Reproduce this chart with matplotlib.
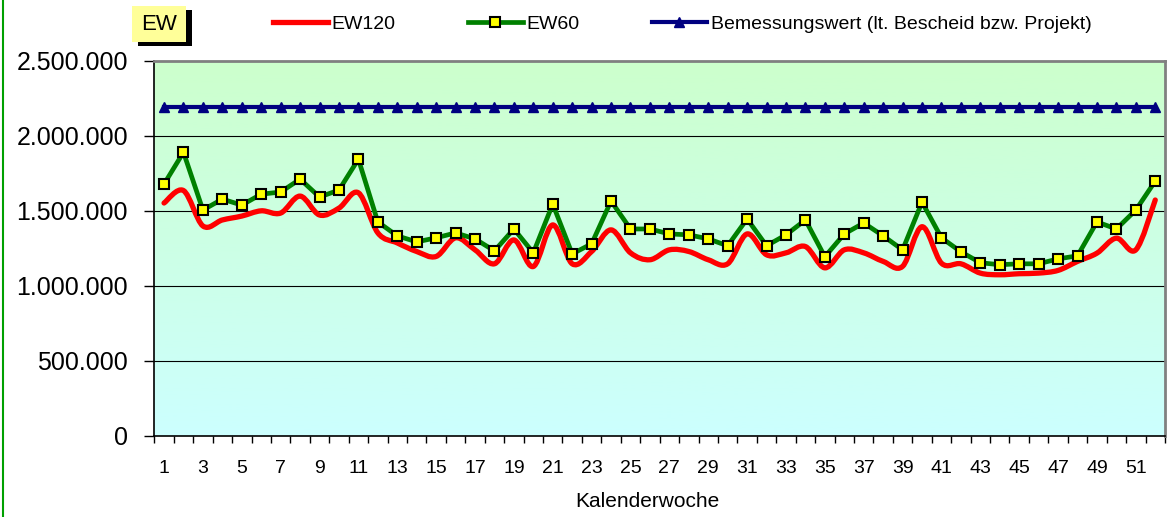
import matplotlib.pyplot as plt
import numpy as np
from matplotlib.path import Path
from matplotlib.patches import PathPatch, Rectangle
from matplotlib.lines import Line2D
from matplotlib.ticker import FuncFormatter

plt.rcParams['font.family'] = ['Liberation Sans', 'DejaVu Sans']

weeks = list(range(1, 53))
ew120 = [1552, 1635, 1399, 1439, 1465, 1500, 1485, 1598, 1472, 1518,
         1620, 1353, 1286, 1229, 1196, 1320, 1240, 1147, 1306, 1129,
         1406, 1147, 1229, 1373, 1220, 1174, 1240, 1229, 1174, 1147,
         1346, 1207, 1220, 1262, 1120, 1240, 1220, 1163, 1130, 1394,
         1151, 1147, 1085, 1074, 1081, 1085, 1103, 1163, 1218, 1318,
         1240, 1572]
ew60 = [1678, 1890, 1505, 1578, 1538, 1611, 1625, 1711, 1592, 1638,
        1844, 1426, 1333, 1293, 1320, 1353, 1313, 1233, 1379, 1220,
        1545, 1213, 1280, 1565, 1379, 1379, 1346, 1340, 1313, 1267,
        1446, 1267, 1340, 1439, 1194, 1346, 1419, 1333, 1240, 1558,
        1320, 1227, 1154, 1141, 1147, 1147, 1180, 1200, 1426, 1379,
        1505, 1698]
bemessung = [2190] * 52

ew120 = [v * 1000 for v in ew120]
ew60 = [v * 1000 for v in ew60]
bemessung = [v * 1000 for v in bemessung]


def smooth_path(xs, ys):
    # Bezier-Kurve wie Excel "geglaettete Linie"
    pts = list(zip(xs, ys))
    verts = [pts[0]]
    codes = [Path.MOVETO]
    n = len(pts)
    for i in range(n - 1):
        p0 = pts[max(i - 1, 0)]
        p1 = pts[i]
        p2 = pts[i + 1]
        p3 = pts[min(i + 2, n - 1)]
        c1 = (p1[0] + (p2[0] - p0[0]) / 6, p1[1] + (p2[1] - p0[1]) / 6)
        c2 = (p2[0] - (p3[0] - p1[0]) / 6, p2[1] - (p3[1] - p1[1]) / 6)
        verts += [c1, c2, p2]
        codes += [Path.CURVE4] * 3
    return Path(verts, codes)


fig = plt.figure(figsize=(11.7, 5.17), dpi=100)
ax = fig.add_axes([0.1319, 0.1567, 0.9957 - 0.1319, 0.8826 - 0.1567])

# Hintergrund-Verlauf
grad = np.linspace(0, 1, 256).reshape(-1, 1)
top = np.array([0xCC, 0xFF, 0xCC]) / 255
bot = np.array([0xCC, 0xFF, 0xFF]) / 255
img = top * (1 - grad[:, :, None]) + bot * grad[:, :, None]
ax.imshow(img, extent=[0.5, 52.5, 0, 2500000], aspect='auto', zorder=0)

for yv in [500000, 1000000, 1500000, 2000000]:
    ax.axhline(yv, color='black', lw=0.8, zorder=1)

ax.plot(weeks, bemessung, color='#000080', lw=3, marker='^', ms=7,
        zorder=3)
ax.add_patch(PathPatch(smooth_path(weeks, ew120), fill=False,
                       edgecolor='#FF0000', lw=3.8, capstyle='round',
                       joinstyle='round', zorder=4))
ax.plot(weeks, ew60, color='#008000', lw=3.4, marker='s', ms=7.3,
        mfc='#FFFF00', mec='black', mew=1.5, zorder=5)

ax.set_xlim(0.5, 52.5)
ax.set_ylim(0, 2500000)
ax.set_yticks([0, 500000, 1000000, 1500000, 2000000, 2500000])
ax.yaxis.set_major_formatter(FuncFormatter(
    lambda v, p: f"{int(v):,}".replace(',', '.')))
ax.tick_params(axis='y', labelsize=18, length=7, width=1, pad=12)

ax.set_xticks(weeks[::2])
ax.set_xticks([w + 0.5 for w in range(0, 53)], minor=True)
ax.tick_params(axis='x', which='major', length=0, labelsize=14, pad=17)
ax.tick_params(axis='x', which='minor', length=5, width=1)
ax.set_xlabel('Kalenderwoche', fontsize=15)
ax.xaxis.set_label_coords((647 - 154) / 1011, -0.148)

ax.spines['top'].set_color('#808080')
ax.spines['right'].set_color('#808080')
ax.spines['top'].set_linewidth(2)
ax.spines['right'].set_linewidth(2)
ax.spines['left'].set_linewidth(1.2)
ax.spines['bottom'].set_linewidth(1.2)

handles = [
    Line2D([], [], color='#FF0000', lw=3.8),
    Line2D([], [], color='#008000', lw=3.4, marker='s', ms=7.3,
           mfc='#FFFF00', mec='black', mew=1.5),
    Line2D([], [], color='#000080', lw=3, marker='^', ms=7),
]
labels = ['EW120', 'EW60', 'Bemessungswert (lt. Bescheid bzw. Projekt)']
fig.legend(handles, labels, loc='center', bbox_to_anchor=(0.583, 0.953),
           ncol=3, frameon=False, fontsize=14, handlelength=2.83,
           handletextpad=0.2, columnspacing=3.7)

# EW-Kasten mit Schatten
fig.patches.append(Rectangle((138 / 1170, 1 - 46 / 517), 54 / 1170, 36 / 517,
                             transform=fig.transFigure, facecolor='black',
                             edgecolor='none'))
fig.patches.append(Rectangle((132 / 1170, 1 - 42 / 517), 54 / 1170, 36 / 517,
                             transform=fig.transFigure, facecolor='#FFFF99',
                             edgecolor='none'))
fig.text(159 / 1170, 1 - 24 / 517, 'EW', fontsize=16, ha='center',
         va='center')

fig.add_artist(Line2D([2.5 / 1170, 2.5 / 1170], [0, 1],
                      transform=fig.transFigure, color='#00A000', lw=1.5))

plt.savefig('out.png', dpi=100)
